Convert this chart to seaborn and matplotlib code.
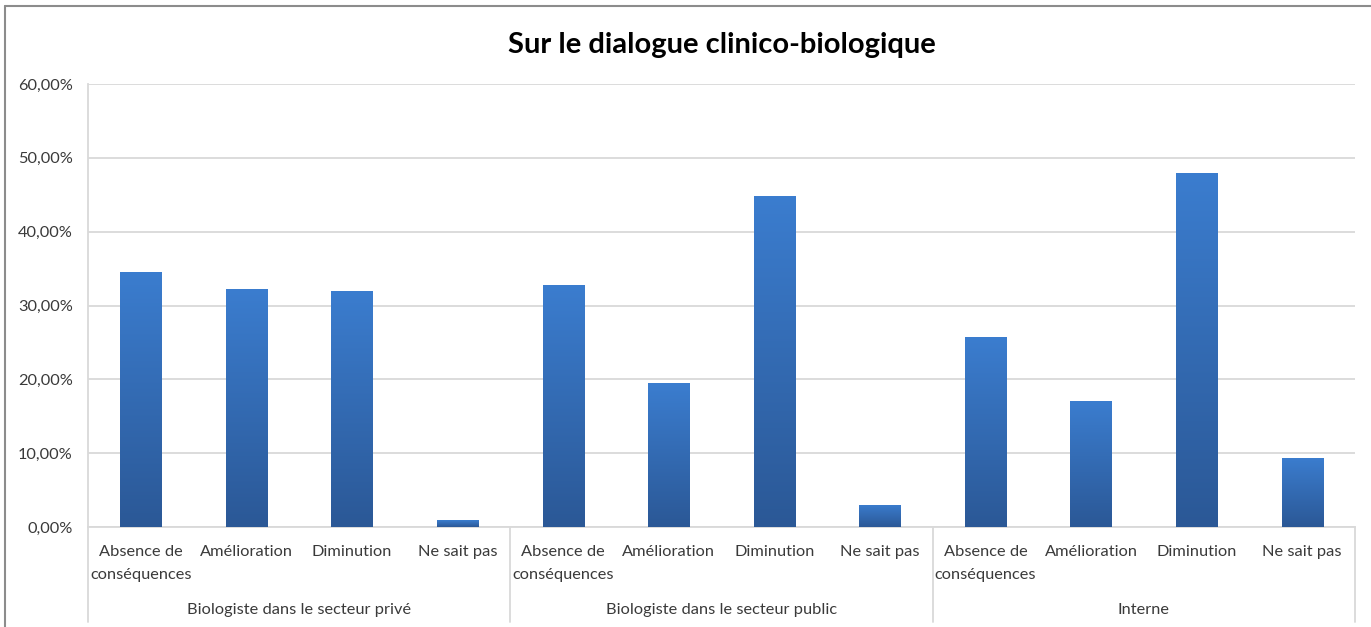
import numpy as np
import pandas as pd
import matplotlib
matplotlib.use("Agg")
import matplotlib.pyplot as plt
import matplotlib.transforms as mtransforms
from matplotlib.colors import LinearSegmentedColormap
from matplotlib.lines import Line2D
import seaborn as sns

# ---- data ----
title = "Sur le dialogue clinico-biologique"
groups = ["Biologiste dans le secteur privé", "Biologiste dans le secteur public", "Interne"]
categories = ["Absence de\nconséquences", "Amélioration", "Diminution", "Ne sait pas"]
values_prive = [34.6, 32.3, 32.0, 0.9]
values_public = [32.8, 19.5, 44.8, 3.0]
values_interne = [25.7, 17.0, 48.0, 9.4]
y_ticks = [0, 10, 20, 30, 40, 50, 60]
y_tick_labels = ["0,00%", "10,00%", "20,00%", "30,00%", "40,00%", "50,00%", "60,00%"]

rows = []
for g, vals in zip(groups, [values_prive, values_public, values_interne]):
    for c, v in zip(categories, vals):
        rows.append({"group": g, "category": c, "key": g + "|" + c, "value": v})
df = pd.DataFrame(rows)
order = list(df["key"])

sns.set_theme(style="white")
plt.rcParams["font.family"] = ["Lato", "DejaVu Sans"]

fig = plt.figure(figsize=(13.71, 6.27), dpi=100)
ax = fig.add_axes([88 / 1371, 1 - 527 / 627, (1355 - 88) / 1371, (527 - 84) / 627])

sns.barplot(data=df, x="key", y="value", order=order, color="#3469b0",
            width=0.39, ax=ax, errorbar=None, saturation=1)

FS = 11.8
TXT = "#3a3a3a"
ax.set_ylim(0, 60)
ax.set_xlim(-0.5, len(order) - 0.5)
ax.set_yticks(y_ticks)
ax.set_yticklabels(y_tick_labels, fontsize=FS, color=TXT)
ax.tick_params(axis="y", length=0, pad=11)
ax.tick_params(axis="x", length=0, labelbottom=False)
ax.set_xlabel("")
ax.set_ylabel("")
ax.grid(axis="y", color="#d9d9d9", linewidth=1.3)
ax.set_axisbelow(True)
for s in ["top", "right"]:
    ax.spines[s].set_visible(False)
ax.spines["left"].set_color("#d9d9d9")
ax.spines["left"].set_linewidth(1.3)
ax.spines["bottom"].set_color("#d9d9d9")
ax.spines["bottom"].set_linewidth(1.3)

# gradient fill for bars
cmap = LinearSegmentedColormap.from_list("g", ["#2b5896", "#3b7dcf"])
grad = np.linspace(0, 1, 256).reshape(-1, 1)
for p in ax.patches:
    x0, y0 = p.get_x(), p.get_y()
    w, h = p.get_width(), p.get_height()
    if h <= 0:
        continue
    im = ax.imshow(grad, cmap=cmap, origin="lower", aspect="auto",
                   extent=[x0, x0 + w, y0, y0 + h], zorder=3)
    im.set_clip_path(p)
    p.set_edgecolor("none")
ax.set_xlim(-0.5, len(order) - 0.5)
ax.set_ylim(0, 60)

# category and group labels
trans = mtransforms.blended_transform_factory(ax.transData, ax.transAxes)
ticks = ax.get_xticks()
for i, key in enumerate(order):
    cat = key.split("|")[1]
    ax.text(ticks[i], -0.04, cat, transform=trans, ha="center", va="top",
            fontsize=FS, color=TXT, linespacing=1.8)
n = len(categories)
for gi, g in enumerate(groups):
    center = (ticks[gi * n] + ticks[gi * n + n - 1]) / 2
    ax.text(center, -0.187, g, transform=trans, ha="center", va="center",
            fontsize=FS, color=TXT)
for gi in range(len(groups) + 1):
    xs = ticks[0] - 0.5 + gi * n
    ax.add_line(Line2D([xs, xs], [0, -0.214], transform=trans, color="#d9d9d9",
                       linewidth=1.3, clip_on=False))

ax.set_title(title, fontsize=21, fontweight="bold", color="#000000", pad=22)

# outer border (top and left only)
fig.add_artist(Line2D([5 / 1371, 1], [1 - 6 / 627, 1 - 6 / 627], transform=fig.transFigure,
                      color="#8c8c8c", linewidth=1.5))
fig.add_artist(Line2D([5 / 1371, 5 / 1371], [0, 1 - 6 / 627], transform=fig.transFigure,
                      color="#8c8c8c", linewidth=1.5))

fig.savefig("out.png", dpi=100)
